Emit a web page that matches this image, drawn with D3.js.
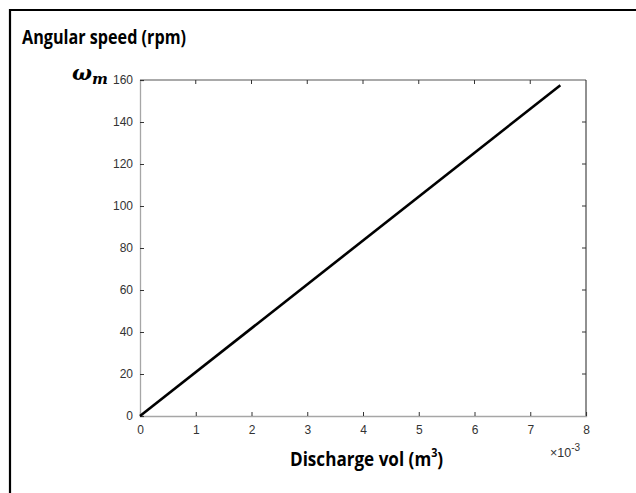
<!DOCTYPE html>
<html><head><meta charset="utf-8">
<script src="https://cdn.jsdelivr.net/npm/d3@7"></script>
<style>body{margin:0;background:#fff}</style>
</head><body>
<svg id="c" width="636" height="493"></svg>
<script>
const xValues = [0, 0.00754];
const yValues = [0, 157.5];
const xTicks = [0, 1, 2, 3, 4, 5, 6, 7, 8];
const yTicks = [0, 20, 40, 60, 80, 100, 120, 140, 160];
const xScaleExp = -3;

const svg = d3.select("#c");
const W = 636, H = 493;
const m = {l: 140, t: 80, r: 586, b: 416};
svg.append("rect").attr("width", W).attr("height", H).attr("fill", "#fff");
// outer frame (left & top)
svg.append("path").attr("d", `M10,${H} V10 H${W}`).attr("fill", "none").attr("stroke", "#000").attr("stroke-width", 2.2);

const x = d3.scaleLinear().domain([0, 8e-3]).range([m.l, m.r]);
const y = d3.scaleLinear().domain([0, 160]).range([m.b, m.t]);

const tickFont = "'Liberation Sans', Arial, sans-serif";
const axisCol = "#a6a6a6";

// box
svg.append("line").attr("x1", m.l).attr("x2", m.r).attr("y1", m.t).attr("y2", m.t).attr("stroke", "#555").attr("stroke-width", 1);
svg.append("line").attr("x1", m.r).attr("x2", m.r).attr("y1", m.t).attr("y2", m.b).attr("stroke", "#222").attr("stroke-width", 1);

const xa = svg.append("g").attr("transform", `translate(0,${m.b})`)
  .call(d3.axisBottom(x).tickValues(xTicks.map(d => d * 1e-3)).tickSize(-4).tickPadding(9).tickFormat((d, i) => xTicks[i]));
const ya = svg.append("g").attr("transform", `translate(${m.l},0)`)
  .call(d3.axisLeft(y).tickValues(yTicks).tickSize(-4).tickPadding(7));
[xa, ya].forEach(g => {
  g.attr("font-size", null).attr("font-family", null);
  g.select(".domain").attr("stroke", axisCol).attr("stroke-width", 1.3);
  g.selectAll(".tick line").attr("stroke", "#333");
  g.selectAll("text").style("font-family", tickFont).style("font-size", "12px").attr("fill", "#333");
});
// top and right inward ticks
svg.append("g").selectAll("line").data(xTicks.slice(1, -1)).join("line")
  .attr("x1", d => x(d * 1e-3)).attr("x2", d => x(d * 1e-3)).attr("y1", m.t).attr("y2", m.t + 4).attr("stroke", "#333");
svg.append("g").selectAll("line").data(yTicks.slice(1, -1)).join("line")
  .attr("x1", m.r).attr("x2", m.r - 4).attr("y1", d => y(d)).attr("y2", d => y(d)).attr("stroke", "#333");

// data line
svg.append("path").datum(xValues.map((v, i) => [v, yValues[i]]))
  .attr("d", d3.line().x(d => x(d[0])).y(d => y(d[1])))
  .attr("fill", "none").attr("stroke", "#000").attr("stroke-width", 2.6);

// exponent label
const ex = svg.append("text").attr("x", 550).attr("y", 457).style("font-family", tickFont).style("font-size", "12.5px").attr("fill", "#333");
ex.append("tspan").text("\u00d710");
ex.append("tspan").attr("dy", -6).style("font-size", "10px").text(String(xScaleExp));

// titles
const tFont = "'Liberation Sans Narrow', 'Open Sans', sans-serif";
svg.append("text").attr("x", 22).attr("y", 44).attr("font-family", tFont).attr("font-weight", "bold")
  .attr("font-size", 19).attr("textLength", 164).attr("lengthAdjust", "spacingAndGlyphs").attr("fill", "#000").text("Angular speed (rpm)");

const om = svg.append("text").attr("x", 72).attr("y", 80).attr("font-family", "'DejaVu Serif', serif").attr("font-weight", "bold").attr("font-style", "italic").attr("fill", "#000").attr("font-size", 21);
om.append("tspan").text("\u03c9");
om.append("tspan").attr("dy", 4).attr("font-size", 15).text("m");

const xl = svg.append("text").attr("transform", "translate(290,466) scale(0.9,1)").attr("font-family", tFont).attr("font-weight", "bold")
  .attr("font-size", 19).attr("fill", "#000");
xl.append("tspan").text("Discharge vol (m");
xl.append("tspan").attr("dy", -9).attr("font-size", 12).text("3");
xl.append("tspan").attr("dy", 9).text(")");
</script>
</body></html>
